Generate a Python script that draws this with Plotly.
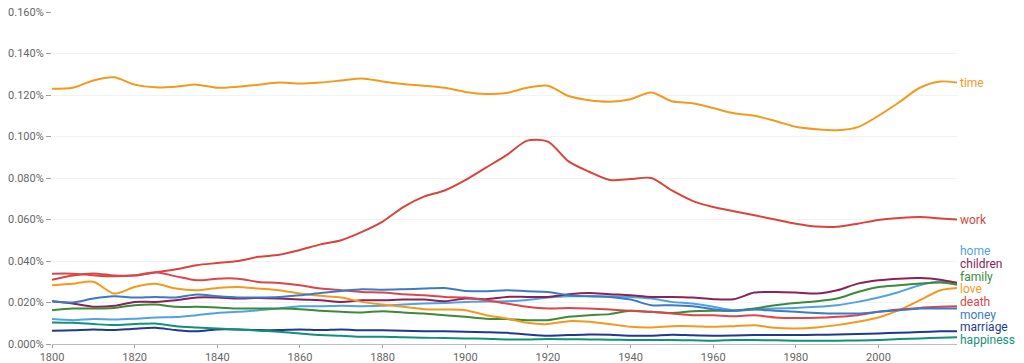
import plotly.graph_objects as go

years = list(range(1800, 2016, 5)) + [2019]

time = [0.123, 0.1235, 0.127, 0.1285, 0.125, 0.1237, 0.124, 0.125, 0.1235, 0.124,
        0.125, 0.126, 0.1255, 0.126, 0.127, 0.128, 0.1265, 0.1253, 0.1245, 0.1235,
        0.1215, 0.1205, 0.121, 0.1235, 0.1245, 0.1195, 0.1175, 0.1168, 0.118, 0.1212,
        0.117, 0.116, 0.1137, 0.1112, 0.110, 0.1075, 0.1047, 0.1035, 0.103, 0.1045,
        0.110, 0.1165, 0.1235, 0.1265, 0.126]
work = [0.031, 0.033, 0.034, 0.033, 0.033, 0.0345, 0.036, 0.038, 0.039, 0.040,
        0.042, 0.043, 0.0453, 0.048, 0.050, 0.054, 0.059, 0.066, 0.071, 0.074,
        0.079, 0.085, 0.091, 0.098, 0.0975, 0.088, 0.083, 0.079, 0.0795, 0.080,
        0.074, 0.069, 0.066, 0.064, 0.062, 0.060, 0.058, 0.0566, 0.0565, 0.058,
        0.0598, 0.0607, 0.0612, 0.0605, 0.060]
home = [0.012, 0.0115, 0.012, 0.0118, 0.0122, 0.0128, 0.013, 0.0139, 0.015, 0.0155,
        0.0163, 0.0171, 0.0182, 0.0182, 0.0184, 0.0182, 0.0184, 0.0190, 0.0195, 0.0198,
        0.0203, 0.0205, 0.0206, 0.0212, 0.0224, 0.0230, 0.0230, 0.0229, 0.0227, 0.0219,
        0.0203, 0.0195, 0.0180, 0.0163, 0.0168, 0.0171, 0.0174, 0.0179, 0.0187, 0.0203,
        0.0224, 0.0251, 0.0283, 0.0302, 0.0296]
children = [0.0206, 0.0195, 0.018, 0.0184, 0.0203, 0.0203, 0.0211, 0.0224, 0.0224, 0.0219,
            0.0222, 0.0219, 0.0214, 0.0211, 0.0203, 0.0211, 0.0211, 0.0214, 0.0214, 0.0206,
            0.0219, 0.0216, 0.0227, 0.0227, 0.0227, 0.0240, 0.0246, 0.0240, 0.0235, 0.0227,
            0.0227, 0.0224, 0.0216, 0.0216, 0.0248, 0.0251, 0.0248, 0.0243, 0.0259, 0.0291,
            0.0307, 0.0315, 0.0318, 0.0310, 0.0294]
family = [0.0163, 0.0171, 0.0171, 0.0174, 0.0187, 0.0190, 0.0179, 0.0179, 0.0176, 0.0171,
          0.0171, 0.0171, 0.0168, 0.0160, 0.0155, 0.0152, 0.0158, 0.0152, 0.0147, 0.0139,
          0.0131, 0.0122, 0.0120, 0.0115, 0.0115, 0.0131, 0.0139, 0.0144, 0.0160, 0.0155,
          0.0150, 0.0158, 0.0160, 0.0160, 0.0171, 0.0187, 0.0198, 0.0206, 0.0219, 0.0251,
          0.0275, 0.0283, 0.0291, 0.0296, 0.0286]
love = [0.0283, 0.029, 0.0300, 0.0243, 0.0275, 0.0290, 0.0267, 0.0259, 0.0270, 0.0275,
        0.0267, 0.0259, 0.0243, 0.0232, 0.0224, 0.0203, 0.0190, 0.0179, 0.0168, 0.0166,
        0.0163, 0.0139, 0.0123, 0.0102, 0.0096, 0.0110, 0.0107, 0.0096, 0.0083, 0.0080,
        0.0086, 0.0086, 0.0083, 0.0086, 0.0090, 0.0078, 0.0075, 0.0080, 0.0091, 0.0107,
        0.0128, 0.0163, 0.0211, 0.0259, 0.0270]
death = [0.0339, 0.0339, 0.0331, 0.0326, 0.0331, 0.0346, 0.0326, 0.0307, 0.0315, 0.0315,
         0.0299, 0.0294, 0.0283, 0.0267, 0.0259, 0.0251, 0.0248, 0.0240, 0.0235, 0.0227,
         0.0224, 0.0211, 0.0195, 0.0179, 0.0171, 0.0174, 0.0171, 0.0166, 0.0160, 0.0155,
         0.0147, 0.0139, 0.0139, 0.0134, 0.0138, 0.0128, 0.0125, 0.0126, 0.0131, 0.0139,
         0.0155, 0.0166, 0.0174, 0.0179, 0.0182]
money = [0.0206, 0.0200, 0.0219, 0.0230, 0.0224, 0.0227, 0.0224, 0.0238, 0.0230, 0.0224,
         0.0224, 0.0227, 0.0235, 0.0246, 0.0256, 0.0264, 0.0262, 0.0264, 0.0267, 0.0270,
         0.0256, 0.0254, 0.0259, 0.0254, 0.0251, 0.0235, 0.0230, 0.0227, 0.0214, 0.0187,
         0.0187, 0.0182, 0.0168, 0.0160, 0.0166, 0.0160, 0.0155, 0.0150, 0.0147, 0.0147,
         0.0155, 0.0163, 0.0171, 0.0171, 0.0171]
marriage = [0.0064, 0.0066, 0.0070, 0.0067, 0.0074, 0.0078, 0.0067, 0.0061, 0.0070, 0.0070,
            0.0067, 0.0067, 0.0070, 0.0067, 0.0070, 0.0066, 0.0066, 0.0064, 0.0062, 0.0061,
            0.0059, 0.0057, 0.0054, 0.0046, 0.0040, 0.0043, 0.0046, 0.0045, 0.0040, 0.0040,
            0.0045, 0.0042, 0.0040, 0.0041, 0.0043, 0.0043, 0.0043, 0.0044, 0.0046, 0.0048,
            0.0051, 0.0054, 0.0058, 0.0061, 0.0062]
happiness = [0.0104, 0.0102, 0.0096, 0.0091, 0.0096, 0.0099, 0.0086, 0.0080, 0.0075, 0.0070,
             0.0064, 0.0059, 0.0051, 0.0043, 0.0040, 0.0035, 0.0035, 0.0032, 0.0030, 0.0029,
             0.0027, 0.0025, 0.0022, 0.0022, 0.0024, 0.0023, 0.0022, 0.0021, 0.0019, 0.0019,
             0.0019, 0.0018, 0.0016, 0.0019, 0.0019, 0.0018, 0.0016, 0.0016, 0.0016, 0.0017,
             0.0019, 0.0024, 0.0027, 0.0030, 0.0032]

series = [
    ("time", time, "#F29A1D"),
    ("work", work, "#D8453C"),
    ("home", home, "#4FA3E0"),
    ("children", children, "#8B2257"),
    ("family", family, "#3C8A3A"),
    ("love", love, "#F39A1E"),
    ("death", death, "#D9474A"),
    ("money", money, "#3A7BC4"),
    ("marriage", marriage, "#1F3A8C"),
    ("happiness", happiness, "#12907B"),
]

y_ticks = [0, 0.02, 0.04, 0.06, 0.08, 0.10, 0.12, 0.14, 0.16]
y_tick_text = ["%.3f%%" % v for v in y_ticks]
x_ticks = [1800, 1820, 1840, 1860, 1880, 1900, 1920, 1940, 1960, 1980, 2000]

fig = go.Figure()
for name, vals, color in series:
    fig.add_trace(go.Scatter(x=years, y=vals, mode="lines", name=name,
                             line=dict(color=color, width=2, shape="spline", smoothing=0.8),
                             hoverinfo="x+y+name", cliponaxis=False))

# Right-side labels: top two at their last value, the crowded group stacked
top_group = ["time", "work"]
cluster = [(n, v[-1], c) for n, v, c in series if n not in top_group]
cluster.sort(key=lambda t: -t[1])
gap = 0.0061
center = sum(t[1] for t in cluster) / len(cluster)
pos = [center + gap * (len(cluster) - 1) / 2 - i * gap for i in range(len(cluster))]
floor = 0.0019
if pos[-1] < floor:
    shift = floor - pos[-1]
    pos = [p + shift for p in pos]

ann = []
for n, v, c in series:
    if n in top_group:
        ann.append(dict(x=years[-1], y=v[-1], text=n, font=dict(color=c, size=12)))
for (n, v, c), p in zip(cluster, pos):
    ann.append(dict(x=years[-1], y=p, text=n, font=dict(color=c, size=12)))
for a in ann:
    a.update(xref="x", yref="y", xanchor="left", yanchor="middle", showarrow=False, xshift=1)

fig.update_layout(
    width=1024, height=363,
    margin=dict(l=52, r=67, t=12, b=19),
    paper_bgcolor="white", plot_bgcolor="white",
    showlegend=False,
    font=dict(family="Roboto, Arial, sans-serif", size=11, color="#666666"),
    annotations=ann,
    xaxis=dict(range=[1800, 2019], tickvals=x_ticks, ticks="outside", ticklen=3,
               tickcolor="#9e9e9e", showline=True, linecolor="#bdbdbd", linewidth=1,
               showgrid=False, zeroline=False, automargin=False,
               tickfont=dict(size=11, color="#666666")),
    yaxis=dict(range=[0, 0.16], tickvals=y_ticks, ticktext=y_tick_text,
               ticks="outside", ticklen=5, tickcolor="#9e9e9e", showgrid=True,
               gridcolor="#f2f2f2", zeroline=False, showline=False, automargin=False,
               tickfont=dict(size=11, color="#666666")),
)

fig.write_html("out.html", config={"displayModeBar": False},
               post_script="document.body.style.margin='0';document.body.style.overflow='hidden';")
